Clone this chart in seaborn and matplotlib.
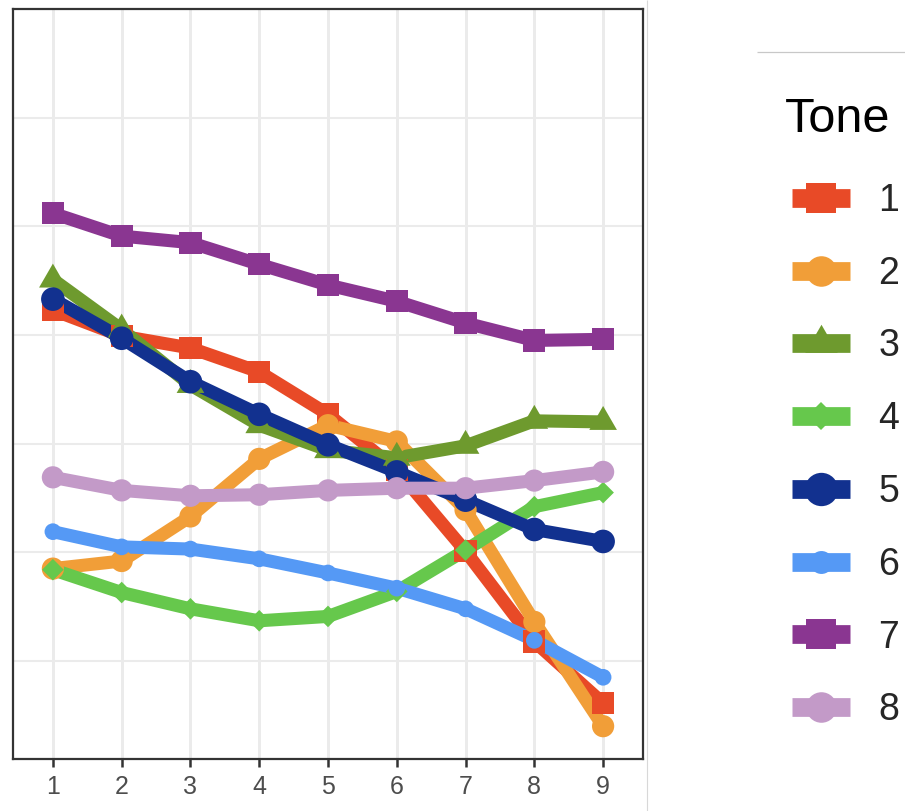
import matplotlib
matplotlib.use("Agg")
import matplotlib.pyplot as plt
from matplotlib.lines import Line2D
import pandas as pd
import seaborn as sns

# Normalised pitch contour for each tone, sampled at nine positions
positions = [1, 2, 3, 4, 5, 6, 7, 8, 9]
tone_1 = [4.23, 3.99, 3.88, 3.66, 3.27, 2.76, 2.01, 1.18, 0.61]
tone_2 = [1.85, 1.92, 2.33, 2.86, 3.17, 3.02, 2.39, 1.36, 0.40]
tone_3 = [4.51, 4.05, 3.54, 3.17, 2.94, 2.87, 2.98, 3.21, 3.20]
tone_4 = [1.84, 1.63, 1.48, 1.37, 1.41, 1.64, 2.02, 2.42, 2.55]
tone_5 = [4.33, 3.97, 3.57, 3.27, 2.99, 2.74, 2.48, 2.21, 2.10]
tone_6 = [2.19, 2.05, 2.03, 1.94, 1.81, 1.67, 1.48, 1.19, 0.85]
tone_7 = [5.12, 4.91, 4.85, 4.65, 4.46, 4.31, 4.11, 3.95, 3.96]
tone_8 = [2.69, 2.57, 2.52, 2.53, 2.57, 2.59, 2.59, 2.66, 2.74]

tones = ["1", "2", "3", "4", "5", "6", "7", "8"]
series = [tone_1, tone_2, tone_3, tone_4, tone_5, tone_6, tone_7, tone_8]

colors = {"1": "#E84A27", "2": "#F19E38", "3": "#6E9A2E", "4": "#66C84C",
          "5": "#12318F", "6": "#5599F5", "7": "#8A3691", "8": "#C39AC8"}
triangle = [(0, 1), (-0.866, -0.5), (0.866, -0.5)]
markers = {"1": "s", "2": "o", "3": triangle, "4": "D",
           "5": "o", "6": "o", "7": "s", "8": "o"}
point_size = {"1": 16, "2": 16, "3": 23, "4": 11,
              "5": 17, "6": 12, "7": 16, "8": 16}
key_size = {"1": 22, "2": 22, "3": 27, "4": 14.5,
            "5": 24, "6": 16.5, "7": 22, "8": 22}

rows = []
for tone, vals in zip(tones, series):
    for p, v in zip(positions, vals):
        rows.append({"Position": p, "Value": v, "Tone": tone})
df = pd.DataFrame(rows)

sns.set_style("white")
plt.rcParams["font.family"] = ["Liberation Sans", "DejaVu Sans"]
plt.rcParams["lines.solid_capstyle"] = "butt"
plt.rcParams["lines.solid_joinstyle"] = "round"

fig = plt.figure(figsize=(9.05, 8.11), dpi=100)
ax = fig.add_axes([13 / 905, 52 / 811, 630 / 905, 750 / 811])

# lines first, then all points on top
sns.lineplot(data=df, x="Position", y="Value", hue="Tone", hue_order=tones,
             palette=colors, linewidth=9.4, sort=False, estimator=None,
             legend=False, ax=ax)
sns.scatterplot(data=df, x="Position", y="Value", hue="Tone", hue_order=tones,
                palette=colors, style="Tone", style_order=tones, markers=markers,
                size="Tone", size_order=tones,
                sizes={t: s ** 2 for t, s in point_size.items()},
                linewidth=0, alpha=1, legend=False, ax=ax, zorder=5)

ax.set_xlim(0.42, 9.58)
ax.set_ylim(0.098, 7.0)
ax.set_xticks(positions)
ax.set_xticklabels([str(p) for p in positions])
ax.set_yticks([1, 2, 3, 4, 5, 6])
ax.set_yticklabels([])
ax.set_xlabel("")
ax.set_ylabel("")
ax.grid(False)
for p in positions:
    ax.axvline(p, color="#EBEBEB", lw=2.1, zorder=0)
for g in [1, 2, 3, 4, 5, 6]:
    ax.axhline(g, color="#EBEBEB", lw=1.5, zorder=0)
ax.tick_params(axis="x", length=5.5, width=1.8, color="#333333",
               labelsize=18, labelcolor="#4D4D4D", pad=6, direction="out",
               bottom=True)
ax.tick_params(axis="y", length=0)
for s in ax.spines.values():
    s.set_color("#333333")
    s.set_linewidth(1.6)

# legend: title drawn as its own text, keys combine line and marker
fig.text(785 / 905, 1 - 132 / 811, "Tone", fontsize=35, color="black",
         ha="left", va="baseline")
handles = [Line2D([], [], color=colors[t], lw=13.5, marker=markers[t],
                  markersize=key_size[t], markeredgewidth=0,
                  solid_capstyle="butt") for t in tones]
leg = fig.legend(handles, tones, loc="upper left",
                 bbox_to_anchor=(792 / 905, 1 - 183 / 811),
                 frameon=False, fontsize=27,
                 handlelength=1.55, handletextpad=0.75, labelspacing=0.98,
                 borderpad=0, borderaxespad=0)

# separators around the legend panel
fig.add_artist(Line2D([647 / 905, 647 / 905], [0, 1], color="#D8D8D8", lw=0.8))
fig.add_artist(Line2D([757 / 905, 1], [1 - 52 / 811, 1 - 52 / 811],
                      color="#C8C8C8", lw=0.9))

fig.savefig("out.png", dpi=100)
